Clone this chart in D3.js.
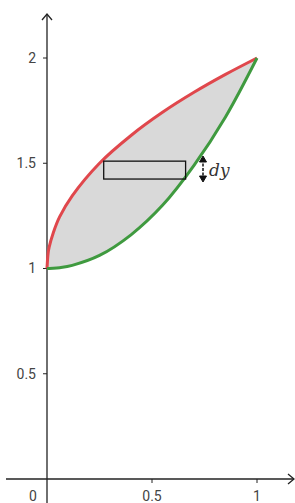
<!DOCTYPE html>
<html>
<head>
<meta charset="utf-8">
<script src="https://cdn.jsdelivr.net/npm/d3@7"></script>
<style>
  body { margin: 0; background: #fff; }
  svg { display: block; }
</style>
</head>
<body>
<div id="chart"></div>
<script>
// sample points
var xs     = [0, 0.005, 0.01, 0.03, 0.06, 0.12, 0.25, 0.4, 0.55, 0.7, 0.85, 1];
var redY   = [1, 1.07, 1.1, 1.17, 1.245, 1.345, 1.5, 1.632, 1.742, 1.837, 1.922, 2];
var greenY = [1, 1, 1.0001, 1.001, 1.004, 1.015, 1.062, 1.16, 1.30, 1.49, 1.72, 2];
var xTicks = [0.5, 1];
var yTicks = [0.5, 1, 1.5, 2];
var strip = {x0: 0.27, x1: 0.66, y0: 1.425, y1: 1.51};
var dyLabel = "dy";

var width = 295, height = 503;
var x = d3.scaleLinear().domain([0, 1]).range([47, 257]);
var y = d3.scaleLinear().domain([0, 1]).range([479, 268.5]);

var svg = d3.select('#chart').append('svg')
    .attr('width', width)
    .attr('height', height);

var pts = xs.map(function(d, i) { return {x: d, r: redY[i], g: greenY[i]}; });
var curve = d3.curveCatmullRom.alpha(0.5);

svg.append('path')
    .datum(pts)
    .attr('fill', '#d9d9d9')
    .attr('d', d3.area()
      .curve(curve)
      .x(function(d) { return x(d.x); })
      .y0(function(d) { return y(d.g); })
      .y1(function(d) { return y(d.r); }));

// axes
var axisColor = '#222';
svg.append('line')
    .attr('x1', x(0)).attr('x2', x(0))
    .attr('y1', height).attr('y2', 14)
    .attr('stroke', axisColor).attr('stroke-width', 1.3);
svg.append('path')
    .attr('d', 'M' + (x(0) - 5) + ',20L' + x(0) + ',14L' + (x(0) + 5) + ',20')
    .attr('fill', 'none').attr('stroke', axisColor).attr('stroke-width', 1.3);
svg.append('line')
    .attr('x1', 6).attr('x2', width - 1)
    .attr('y1', y(0)).attr('y2', y(0))
    .attr('stroke', axisColor).attr('stroke-width', 1.3);
svg.append('path')
    .attr('d', 'M' + (width - 7) + ',' + (y(0) - 5) + 'L' + (width - 1) + ',' + y(0) + 'L' + (width - 7) + ',' + (y(0) + 5))
    .attr('fill', 'none').attr('stroke', axisColor).attr('stroke-width', 1.3);

var labelStyle = function(sel) {
  sel.attr('font-family', 'Roboto, "DejaVu Sans", sans-serif')
     .attr('font-size', 14)
     .attr('fill', '#444');
};

svg.selectAll('.ytick').data(yTicks).enter().append('line')
    .attr('x1', x(0) - 4).attr('x2', x(0))
    .attr('y1', function(d) { return y(d); }).attr('y2', function(d) { return y(d); })
    .attr('stroke', axisColor);
svg.selectAll('.ylab').data(yTicks).enter().append('text')
    .attr('x', 36).attr('y', function(d) { return y(d); })
    .attr('dy', '0.35em').attr('text-anchor', 'end')
    .call(labelStyle)
    .text(function(d) { return d; });

svg.selectAll('.xtick').data(xTicks).enter().append('line')
    .attr('x1', function(d) { return x(d); }).attr('x2', function(d) { return x(d); })
    .attr('y1', y(0)).attr('y2', y(0) + 4)
    .attr('stroke', axisColor);
svg.selectAll('.xlab').data(xTicks).enter().append('text')
    .attr('x', function(d) { return x(d); }).attr('y', 501)
    .attr('text-anchor', 'middle')
    .call(labelStyle)
    .text(function(d) { return d; });
svg.append('text')
    .attr('x', 33).attr('y', 501)
    .attr('text-anchor', 'middle')
    .call(labelStyle)
    .text('0');

// curves
var line = function(key) {
  return d3.line()
    .curve(curve)
    .x(function(d) { return x(d.x); })
    .y(function(d) { return y(d[key]); });
};
svg.append('path').datum(pts)
    .attr('fill', 'none').attr('stroke', '#e0474c').attr('stroke-width', 3)
    .attr('d', line('r'));
svg.append('path').datum(pts)
    .attr('fill', 'none').attr('stroke', '#3f9a3f').attr('stroke-width', 3)
    .attr('d', line('g'));

// strip
svg.append('rect')
    .attr('x', x(strip.x0)).attr('y', y(strip.y1))
    .attr('width', x(strip.x1) - x(strip.x0))
    .attr('height', y(strip.y0) - y(strip.y1))
    .attr('fill', 'none').attr('stroke', '#111').attr('stroke-width', 1.3);

// dy arrow
var ax = 203, ay0 = 156, ay1 = 182;
svg.append('line')
    .attr('x1', ax).attr('x2', ax).attr('y1', ay0 + 3).attr('y2', ay1 - 3)
    .attr('stroke', '#111').attr('stroke-width', 1.5).attr('stroke-dasharray', '3,1.5');
svg.append('path')
    .attr('d', 'M' + (ax - 3.5) + ',' + (ay0 + 6) + 'L' + ax + ',' + ay0 + 'L' + (ax + 3.5) + ',' + (ay0 + 6) + 'Z')
    .attr('fill', '#111').attr('stroke', '#111');
svg.append('path')
    .attr('d', 'M' + (ax - 3.5) + ',' + (ay1 - 6) + 'L' + ax + ',' + ay1 + 'L' + (ax + 3.5) + ',' + (ay1 - 6) + 'Z')
    .attr('fill', '#111').attr('stroke', '#111');
svg.append('text')
    .attr('x', 209).attr('y', 176)
    .attr('font-family', '"DejaVu Serif", "Liberation Serif", serif')
    .attr('font-style', 'italic')
    .attr('font-size', 17)
    .attr('fill', '#333')
    .text(dyLabel);
</script>
</body>
</html>
